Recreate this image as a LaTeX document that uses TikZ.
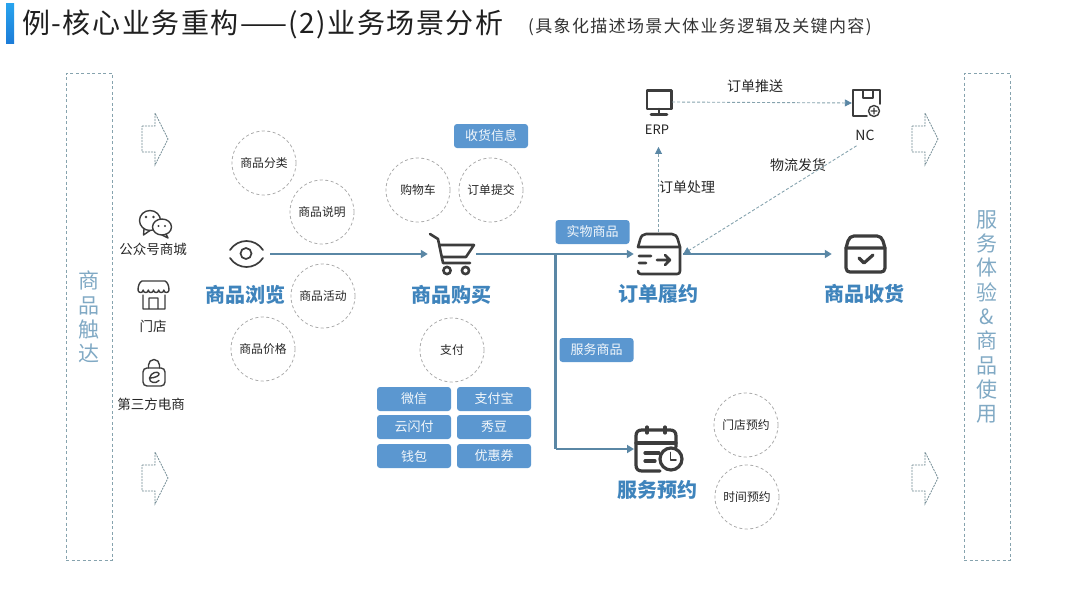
\documentclass[tikz,border=0pt]{standalone}
\usepackage{fontspec}
\setmainfont{Noto Sans CJK SC}
\usetikzlibrary{arrows.meta,shapes.geometric}
\definecolor{flowc}{HTML}{5A87A5}
\definecolor{dashc}{HTML}{86A3AE}
\definecolor{tagc}{HTML}{5B97D0}
\definecolor{headc}{HTML}{3F84BC}
\definecolor{sidec}{HTML}{80A9C4}
\definecolor{inkc}{HTML}{3C3C3C}
\definecolor{ringc}{HTML}{ABABAB}
\definecolor{bartop}{HTML}{28A4EE}
\definecolor{barbot}{HTML}{1C7CD8}
\newcommand{\fsz}[1]{\fontsize{#1}{#1}\selectfont}
\tikzset{
  bubble/.style={circle,draw=ringc,line width=0.8pt,dash pattern=on 3pt off 2.5pt,minimum size=64pt,inner sep=0pt,font=\fsz{11.8},text=black!85},
  tagbox/.style={rectangle,rounded corners=3pt,fill=tagc,minimum width=74pt,minimum height=24pt,inner sep=0pt,font=\fsz{13},text=white!92!tagc},
  caption/.style={inner sep=0pt,font=\fsz{13.5},text=black!85},
  linklabel/.style={inner sep=0pt,font=\fsz{14},text=black!85},
  headline/.style={inner sep=0pt,font=\fsz{20}\bfseries,text=headc},
  sidebox/.style={rectangle,draw=dashc,line width=0.8pt,dash pattern=on 3pt off 2.5pt,minimum width=46pt,minimum height=487pt,inner sep=0pt},
  sidetext/.style={inner sep=0pt,align=center,font=\fontsize{21}{24.3}\selectfont,text=sidec},
  flow/.style={draw=flowc,line width=2.5pt,-{Triangle[length=7pt,width=8pt]}},
  flowplain/.style={draw=flowc,line width=2.5pt},
  dashflow/.style={draw=dashc,line width=0.9pt,dash pattern=on 3pt off 2pt,-{Triangle[length=7pt,width=7pt,color=flowc,fill=flowc]}},
  iconnode/.style={inner sep=0pt,minimum height=44pt},
  iconline/.style={draw=inkc,line width=1.4pt,line cap=round,line join=round},
  iconbold/.style={draw=inkc,line width=2.6pt,line cap=round,line join=round},
  iconheavy/.style={draw=inkc,line width=3.2pt,line cap=round,line join=round},
  fatarrow/.pic={\draw[draw=dashc!85!black,line width=0.8pt,dash pattern=on 2pt off 1pt,line join=miter]
    (0,13)--(13,13)--(13,0)--(26,26)--(13,52)--(13,39)--(0,39)--cycle;}
}
\begin{document}
\begin{tikzpicture}[x=1pt,y=-1pt]
\useasboundingbox (0,0) rectangle (1080,608);
% title
\fill[top color=bartop,bottom color=barbot] (6,3) rectangle (14,43);
\node[anchor=west,inner sep=0pt,font=\fsz{28}\addfontfeatures{LetterSpace=5.5},text=black!88] (title) at (22,24) {例-核心业务重构——(2)业务场景分析};
\node[anchor=west,inner sep=0pt,font=\fsz{17}\addfontfeatures{LetterSpace=8},text=black!80] (subtitle) at (528,27) {(具象化描述场景大体业务逻辑及关键内容)};
% side panels
\node[sidebox] (leftbox) at (89,316.5) {};
\node[sidebox] (rightbox) at (987,316.5) {};
\node[sidetext] (lefttext) at (89,317) {商\\品\\触\\达};
\node[sidetext] (righttext) at (987,317) {服\\务\\体\\验\\\&\\商\\品\\使\\用};
% hollow arrows
\pic at (142,113) {fatarrow};
\pic at (142,452) {fatarrow};
\pic at (912,113) {fatarrow};
\pic at (912,452) {fatarrow};
% channels
\node[caption] (chan1) at (153,249) {公众号商城};
\node[caption] (chan2) at (153,326) {门店};
\node[caption] (chan3) at (151,404) {第三方电商};
\draw[iconline,fill=white] (150,220.5) ellipse (10.5 and 10);
\draw[iconline] (144,229) -- (143.5,235) -- (150,230.5);
\draw[iconline,fill=white] (162,227) ellipse (9.5 and 8);
\draw[iconline] (166,234) -- (168,238) -- (162,235);
\fill[inkc] (146,217) circle (1.3) (153.5,217) circle (1.3) (158.5,226) circle (1.2) (165,226) circle (1.2);
\draw[iconline] (142,281) -- (165,281) (142,281) .. controls (139.5,282) and (138,286) .. (138,290)
  (165,281) .. controls (167.5,282) and (169,286) .. (169,290)
  (138,290) arc[start angle=180,end angle=0,radius=2.583] arc[start angle=180,end angle=0,radius=2.583] arc[start angle=180,end angle=0,radius=2.583] arc[start angle=180,end angle=0,radius=2.583] arc[start angle=180,end angle=0,radius=2.583] arc[start angle=180,end angle=0,radius=2.583]
  (143,295) -- (143,309) -- (165,309) -- (165,295)
  (149,309) -- (149,298) -- (158,298) -- (158,309);
\draw[iconline,rounded corners=4pt] (143,368) rectangle (165,386);
\draw[iconline] (148.5,368) -- (148.5,365) arc[start angle=180,end angle=360,radius=5.5] -- (159.5,368);
\draw[iconline] (150,378) .. controls (155,378) and (160,375.5) .. (159,373.5) .. controls (158,371) and (151,372) .. (149.5,378) .. controls (149,383) and (156,384) .. (159,380.5);
% steps
\node[iconnode,minimum width=48pt] (eye) at (246,254) {};
\draw[iconline,line width=1.7pt] (230,250) .. controls (238,238) and (255,238) .. (263,250);
\draw[iconline,line width=1.7pt] (230,258) .. controls (238,270) and (255,270) .. (263,258);
\draw[iconline,line width=1.7pt] (246,253.5) circle (5.5);
\node[iconnode,minimum width=48pt] (cart) at (452,254) {};
\draw[iconbold] (430,234) -- (438,239) -- (443,263) -- (470,263);
\draw[iconbold] (440,245) -- (474,245) -- (466,257) -- (442,257);
\draw[iconbold] (447,270.5) circle (3.6) (465.5,270.5) circle (3.6);
\node[iconnode,minimum width=49pt] (order) at (658.5,254) {};
\draw[iconbold] (638,247) -- (640,240) .. controls (641,236) and (643,234) .. (646,234) -- (672,234) .. controls (675,234) and (677,236) .. (678,240) -- (680,247) -- (680,271) .. controls (680,273) and (679,274) .. (677,274) -- (641,274) .. controls (639,274) and (638,273) .. (638,271);
\draw[iconbold] (638,247) -- (680,247) (639,256) -- (651,256) (639,263) -- (646,263) (657,260) -- (670,260) (665,255) -- (670,260) -- (665,265);
\node[iconnode,minimum width=66pt] (recv) at (865,254) {};
\draw[iconheavy] (846,248) -- (848,241) .. controls (849,238) and (851,236) .. (854,236) -- (877,236) .. controls (880,236) and (882,238) .. (883,241) -- (885,248) -- (885,268) .. controls (885,271) and (883,272) .. (881,272) -- (850,272) .. controls (848,272) and (846,271) .. (846,268) -- cycle;
\draw[iconheavy] (846,248) -- (885,248) (859,258) -- (864,263) -- (873,255);
\node[iconnode,minimum width=52pt] (booking) at (660,450) {};
\draw[iconheavy] (660,471) -- (642,471) .. controls (638,471) and (636,469) .. (636,465) -- (636,436) .. controls (636,432) and (638,430) .. (642,430) -- (670,430) .. controls (674,430) and (676,432) .. (676,436) -- (676,447);
\draw[iconheavy] (647,427) -- (647,433) (665,427) -- (665,433) (636,443) -- (676,443) (645,453) -- (659,453) (645,461) -- (655,461);
\draw[iconheavy,fill=white] (671,459) circle (11);
\draw[iconline,line width=1.8pt] (670.5,452.5) -- (670.5,460) -- (676,460);
% ERP and NC
\node[iconnode,minimum width=26pt,minimum height=26pt] (erp) at (659,102) {};
\draw[iconbold] (647,90.5) rectangle (671.5,109);
\draw[iconbold] (659,109) -- (659,114) (651,114.5) -- (667,114.5);
\node[iconnode,minimum width=28pt,minimum height=28pt] (nc) at (866,103) {};
\draw[iconline,line width=1.8pt] (880,104) -- (880,90) -- (853,90) -- (853,116) -- (867,116) (863,90) -- (863,98) -- (873,98) -- (873,90);
\draw[iconline] (874,111) circle (5.5) (871,111) -- (877,111) (874,108) -- (874,114);
\node[caption,font=\fsz{13}] (erplabel) at (657,130) {ERP};
\node[caption,font=\fsz{14}] (nclabel) at (865,135) {NC};
% headlines
\node[headline] (h1) at (245,295) {商品浏览};
\node[headline] (h2) at (451,295) {商品购买};
\node[headline] (h3) at (658,294) {订单履约};
\node[headline] (h4) at (864,294) {商品收货};
\node[headline] (h5) at (657,490) {服务预约};
% bubbles
\node[bubble] (b1) at (264,163) {商品分类};
\node[bubble] (b2) at (322,212) {商品说明};
\node[bubble] (b3) at (323,296) {商品活动};
\node[bubble] (b4) at (263,349) {商品价格};
\node[bubble] (b5) at (418,190) {购物车};
\node[bubble] (b6) at (491,190) {订单提交};
\node[bubble] (b7) at (452,350) {支付};
\node[bubble] (b8) at (746,425) {门店预约};
\node[bubble] (b9) at (747,497) {时间预约};
% tags
\node[tagbox] (t1) at (491,136) {收货信息};
\node[tagbox] (t2) at (592.5,232) {实物商品};
\node[tagbox] (t3) at (596.5,350) {服务商品};
\node[tagbox] (p1) at (414,399) {微信};
\node[tagbox] (p2) at (494,399) {支付宝};
\node[tagbox] (p3) at (414,427) {云闪付};
\node[tagbox] (p4) at (494,427) {秀豆};
\node[tagbox] (p5) at (414,456) {钱包};
\node[tagbox] (p6) at (494,456) {优惠券};
% connector labels
\node[linklabel] (l1) at (755,86) {订单推送};
\node[linklabel] (l2) at (798,165) {物流发货};
\node[linklabel] (l3) at (687,187) {订单处理};
% connectors
\coordinate (fork) at (555.5,254);
\draw[flow] (eye.east) -- (cart.west);
\draw[flow] (cart.east) -- (order.west);
\draw[flowplain] (fork) -- (555.5,449);
\draw[flow] (555.5,449) -- (634,449);
\draw[flow] (order.east) -- (recv.west);
\draw[dashflow] (erp.east) -- (nc.west);
\draw[dashflow,shorten >=12pt] (order.north) -- (erplabel.south -| order.north);
\draw[dashflow,shorten <=10pt] (nclabel.south) -- (order.east);
\end{tikzpicture}
\end{document}
